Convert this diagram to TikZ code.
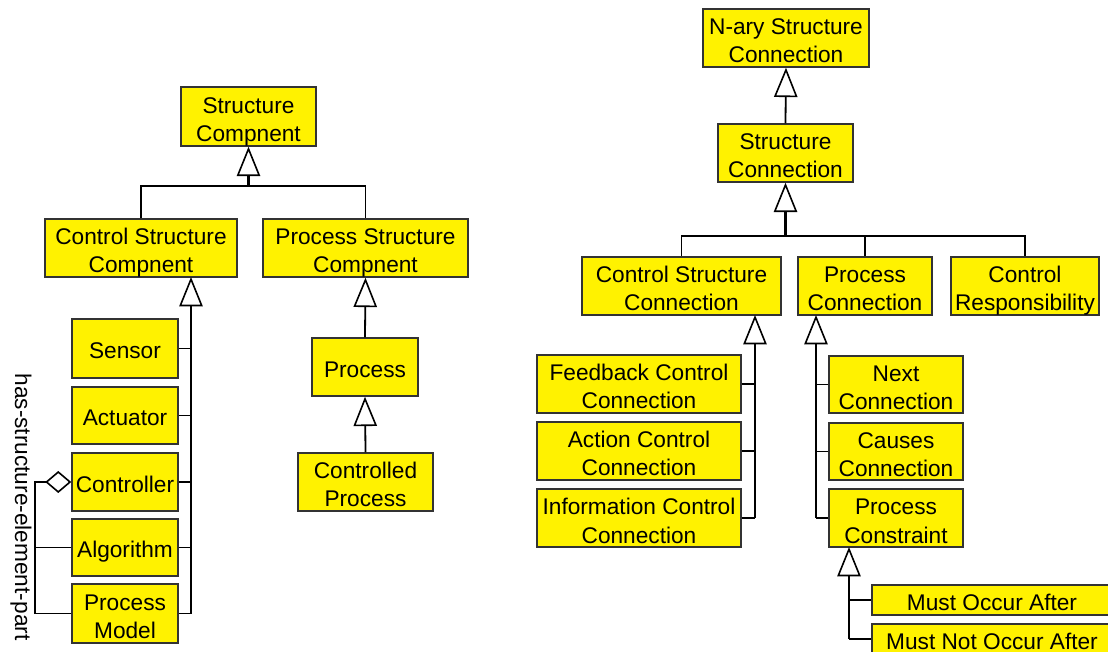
\documentclass[tikz,border=0pt]{standalone}
\usepackage{fontspec}
\setmainfont{Liberation Sans}
\usetikzlibrary{arrows.meta}

% class box given by its corner coordinates (x1,y1) and (x2,y2);
% the optional argument picks the text placement (twolines / oneline)
\newcommand\umlclass[7][twolines]{%
  \node[cls, #1, minimum width={(#5-#3)*0.75pt}, minimum height={(#6-#4)*0.75pt}]
    (#2) at ({(#3+#5)/2},{(#4+#6)/2}) {#7};}

\begin{document}
\begin{tikzpicture}[x=0.75pt, y=-0.75pt,
  cls/.style={draw=black!80, line width=1.1pt, fill=yellow, inner sep=0pt,
    align=center, font=\fontsize{17pt}{21pt}\selectfont},
  twolines/.style={text height=37.5pt, text depth=0pt},
  oneline/.style={text height=15.4pt, text depth=0pt},
  branch/.style={draw=black, line width=1.35pt},
  trunk/.style={draw=black, line width=2.1pt},
  gen/.style={-{Triangle[length=22pt, width=17.5pt, fill=white, line width'=1.2pt]}},
  agg/.style={{Diamond[length=19.5pt, width=16.5pt, fill=white, line width'=1.2pt]}-}]
\useasboundingbox (0,0) rectangle (1108,652);

% ---- component hierarchy ----
\umlclass{sc}{181}{87}{316}{146}{Structure\\Compnent}
\umlclass{csc}{45}{219}{237}{277}{Control Structure\\Compnent}
\umlclass{psc}{263}{219}{468}{277}{Process Structure\\Compnent}
\umlclass[oneline]{sensor}{72}{319}{178}{378}{Sensor}
\umlclass[oneline]{actuator}{72}{387}{178}{444}{Actuator}
\umlclass[oneline]{controller}{72}{453}{178}{511}{Controller}
\umlclass[oneline]{algorithm}{72}{519}{178}{576}{Algorithm}
\umlclass{pmodel}{72}{584}{178}{643}{Process\\Model}
\umlclass[oneline]{process}{312}{338}{418}{396}{Process}
\umlclass{cproc}{298}{453}{433}{511}{Controlled\\Process}

% ---- connection hierarchy ----
\umlclass{nary}{703}{9}{869}{67}{N-ary Structure\\Connection}
\umlclass{sconn}{718}{124}{853}{182}{Structure\\Connection}
\umlclass{csconn}{582}{257}{781}{315}{Control Structure\\Connection}
\umlclass{pconn}{798}{257}{932}{315}{Process\\Connection}
\umlclass{cresp}{951}{257}{1099}{315}{Control\\Responsibility}
\umlclass{fb}{537}{355}{741}{413}{Feedback Control\\Connection}
\umlclass{act}{537}{422}{741}{480}{Action Control\\Connection}
\umlclass{info}{537}{489}{741}{547}{Information Control\\Connection}
\umlclass{next}{829}{356}{963}{413}{Next\\Connection}
\umlclass{causes}{829}{423}{963}{480}{Causes\\Connection}
\umlclass{pcons}{829}{489}{963}{547}{Process\\Constraint}
\umlclass[oneline]{moa}{872}{585}{1112}{615}{Must Occur After}
\umlclass[oneline]{mnoa}{872}{624}{1112}{654}{Must Not Occur After}

% ---- junction points of the generalization trees ----
\coordinate (scJoin) at (248.5,186);
\coordinate (cscTip) at (191,277);
\coordinate (sconnJoin) at (785.5,236);
\coordinate (csconnTip) at (755,315);
\coordinate (pconnTip) at (816,315);
\coordinate (pconsTip) at (849,547);
\coordinate (aggX) at (35,482);

% Structure Compnent
\draw[trunk, gen] (scJoin) -- (sc.south);
\draw[branch] (csc.north) |- (scJoin) -| (psc.north);

% Control Structure Compnent
\draw[trunk, gen] (cscTip |- pmodel.east) -- (cscTip);
\foreach \n in {sensor, actuator, controller, algorithm, pmodel}
  \draw[branch] (\n.east) -- (\n.east -| cscTip);

% Process Structure Compnent
\draw[branch, gen] (process.north) -- (psc.south);
\draw[branch, gen] (cproc.north) -- (process.south);

% has-structure-element-part aggregation
\draw[branch, agg] (controller.west) -- (aggX) |- (pmodel.west);
\draw[branch] (algorithm.west) -- (algorithm.west -| aggX);
\node[rotate=-90, font=\fontsize{17pt}{21pt}\selectfont] (agglabel) at (21,507)
  {has-structure-element-part};

% N-ary Structure Connection / Structure Connection
\draw[branch, gen] (sconn.north) -- (nary.south);
\draw[trunk, gen] (sconnJoin) -- (sconn.south);
\draw[branch] (csconn.north) |- (sconnJoin) -| (cresp.north);
\draw[branch] (pconn.north) -- (pconn.north |- sconnJoin);

% Control Structure Connection
\draw[trunk, gen] (csconnTip |- info.east) -- (csconnTip);
\foreach \n in {fb, act, info}
  \draw[branch] (\n.east) -- (\n.east -| csconnTip);

% Process Connection
\draw[trunk, gen] (pconnTip |- pcons.west) -- (pconnTip);
\foreach \n in {next, causes, pcons}
  \draw[branch] (\n.west) -- (\n.west -| pconnTip);

% Process Constraint
\draw[trunk, gen] (pconsTip |- mnoa.west) -- (pconsTip);
\foreach \n in {moa, mnoa}
  \draw[branch] (\n.west) -- (\n.west -| pconsTip);
\end{tikzpicture}
\end{document}
